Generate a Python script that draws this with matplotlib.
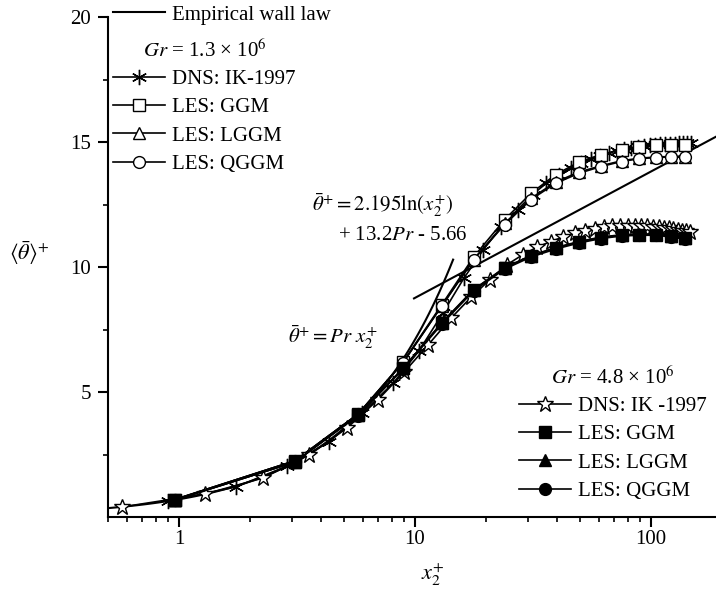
import matplotlib.pyplot as plt
import numpy as np
from matplotlib.ticker import LogLocator, NullFormatter

plt.rcParams['font.family'] = ['Liberation Serif', 'DejaVu Serif']
plt.rcParams['mathtext.fontset'] = 'stix'
plt.rcParams['font.size'] = 15

# Gr = 1.3e6 group
x_dns_a = [0.90, 1.74, 2.87, 4.32, 5.96, 8.07, 10.4, 13.1, 16.1, 19.5, 23.2, 27.2,
           31.5, 36.0, 40.7, 45.6, 50.6, 55.7, 60.9, 66.2, 71.5, 76.9, 82.3, 87.7,
           93.2, 98.6, 104.1, 109.5, 115.0, 120.4, 125.8, 131.2, 136.5, 141.8, 147.0]
th_dns_a = [0.64, 1.20, 2.04, 3.00, 4.15, 5.35, 6.65, 8.15, 9.55, 10.7, 11.6, 12.3,
            12.9, 13.35, 13.7, 13.97, 14.17, 14.33, 14.46, 14.56, 14.64, 14.71, 14.76, 14.8,
            14.84, 14.87, 14.89, 14.91, 14.92, 14.93, 14.94, 14.95, 14.95, 14.96, 14.96]

x_les = [0.96, 3.1, 5.74, 8.9, 13.0, 17.7, 24.0, 31.0, 39.5, 49.5, 61.5, 75.0,
         89.0, 105.0, 122.0, 139.0]
th_ggm_a = [0.70, 2.25, 4.12, 6.2, 8.5, 10.4, 11.9, 12.95, 13.7, 14.2, 14.5, 14.7,
            14.82, 14.88, 14.9, 14.9]
th_lggm_a = [0.70, 2.25, 4.12, 6.18, 8.45, 10.3, 11.75, 12.75, 13.4, 13.8, 14.05, 14.25,
             14.35, 14.4, 14.42, 14.42]
th_qggm_a = [0.70, 2.25, 4.12, 6.18, 8.45, 10.3, 11.7, 12.7, 13.35, 13.75, 14.02, 14.22,
             14.33, 14.38, 14.4, 14.4]

# Gr = 4.8e6 group
x_dns_b = [0.573, 1.29, 2.27, 3.56, 5.15, 6.95, 9.0, 11.4, 14.2, 17.3, 20.8, 24.6,
           28.7, 33.0, 37.6, 42.4, 47.4, 52.5, 57.8, 63.2, 68.6, 74.1, 79.6, 85.2,
           90.8, 96.4, 102.0, 107.6, 113.2, 118.8, 124.4, 130.0, 135.6, 141.2, 146.8]
th_dns_b = [0.40, 0.92, 1.56, 2.48, 3.56, 4.68, 5.8, 6.9, 7.95, 8.8, 9.5, 10.1,
            10.5, 10.8, 11.02, 11.2, 11.35, 11.46, 11.54, 11.6, 11.63, 11.65, 11.66, 11.66,
            11.65, 11.64, 11.62, 11.6, 11.58, 11.55, 11.52, 11.49, 11.46, 11.43, 11.4]
th_ggm_b = [0.68, 2.2, 4.08, 5.95, 7.76, 9.08, 9.96, 10.44, 10.76, 11.0, 11.18, 11.27,
            11.3, 11.3, 11.24, 11.16]
th_lggm_b = [0.68, 2.2, 4.08, 5.95, 7.78, 9.1, 9.98, 10.46, 10.78, 11.02, 11.2, 11.29,
             11.32, 11.32, 11.26, 11.18]
th_qggm_b = [0.68, 2.2, 4.06, 5.92, 7.72, 9.04, 9.92, 10.4, 10.72, 10.96, 11.14, 11.24,
             11.27, 11.27, 11.2, 11.12]

# empirical wall law constants
Pr = 0.71
log_a = 2.195
log_b = 13.2 * Pr - 5.66

fig = plt.figure(figsize=(7.16, 5.89), dpi=100)
ax = fig.add_axes([108/716, 72/589, 1 - 108/716, 500/589])

# wall laws
x_lin = np.geomspace(0.5, 14.5, 100)
ax.plot(x_lin, Pr * x_lin, color='black', lw=1.5)
x_log = np.array([9.9, 200.0])
wall, = ax.plot(x_log, log_a * np.log(x_log) + log_b, color='black', lw=1.5)

kw = dict(color='black', lw=1.2, markeredgecolor='black', markeredgewidth=1.0)
dns_a, = ax.plot(x_dns_a, th_dns_a, marker=(6, 2, 0), ms=11, **kw)
ggm_a, = ax.plot(x_les, th_ggm_a, marker='s', ms=8, markerfacecolor='white', **kw)
lggm_a, = ax.plot(x_les, th_lggm_a, marker='^', ms=9, markerfacecolor='white', **kw)
qggm_a, = ax.plot(x_les, th_qggm_a, marker='o', ms=8.5, markerfacecolor='white', **kw)

dns_b, = ax.plot(x_dns_b, th_dns_b, marker='*', ms=12, markerfacecolor='white', **kw)
ggm_b, = ax.plot(x_les, th_ggm_b, marker='s', ms=8, markerfacecolor='black', **kw)
lggm_b, = ax.plot(x_les, th_lggm_b, marker='^', ms=9, markerfacecolor='black', **kw)
qggm_b, = ax.plot(x_les, th_qggm_b, marker='o', ms=8.5, markerfacecolor='black', **kw)

ax.set_xscale('log')
ax.set_xlim(0.5, 188.5)
ax.set_ylim(0, 20)
ax.set_yticks([5, 10, 15, 20])
ax.set_yticks([2.5, 7.5, 12.5, 17.5], minor=True)
ax.set_xticks([1, 10, 100])
ax.set_xticklabels(['1', '10', '100'])
ax.xaxis.set_minor_locator(LogLocator(base=10, subs=np.arange(2, 10), numticks=20))
ax.xaxis.set_minor_formatter(NullFormatter())
for s in ['top', 'right']:
    ax.spines[s].set_visible(False)
for s in ['left', 'bottom']:
    ax.spines[s].set_linewidth(1.5)
ax.tick_params(which='major', direction='out', length=7, width=1.5, labelsize=15)
ax.tick_params(axis='x', which='major', pad=2)
ax.tick_params(axis='y', which='major', pad=5)
ax.tick_params(which='minor', direction='out', length=3.5, width=1.2)

ax.set_ylabel(r'$\langle\bar{\theta}\rangle^{+}$', rotation=0, fontsize=16)
ax.yaxis.set_label_coords(-0.13, 0.5)
ax.set_xlabel(r'$x_2^{+}$', fontsize=16)
ax.xaxis.set_label_coords(0.535, -0.09)

ax.text(312, 589 - 205, r'$\bar{\theta}^{+} = 2.195\mathrm{ln}(x_2^{+})$',
        transform=None, fontsize=15, va='center')
ax.text(338, 589 - 235, r'+ 13.2$Pr$ - 5.66', transform=None, fontsize=15, va='center')
ax.text(288, 589 - 337, r'$\bar{\theta}^{+} = Pr\ x_2^{+}$', transform=None,
        fontsize=15, va='center')

leg_kw = dict(frameon=False, handlelength=2.5, handletextpad=0.35, labelspacing=0.42,
              borderpad=0, borderaxespad=0, fontsize=15, bbox_transform=fig.transFigure,
              title_fontsize=15)
leg0 = ax.legend([wall], ['Empirical wall law'], loc='center left',
                 bbox_to_anchor=(113/716, 1 - 15/589), **leg_kw)
ax.add_artist(leg0)
leg1 = ax.legend([dns_a, ggm_a, lggm_a, qggm_a],
                 ['DNS: IK-1997', 'LES: GGM', 'LES: LGGM', 'LES: QGGM'],
                 title=r'$Gr$ = 1.3 × 10$^{6}$', loc='upper left',
                 bbox_to_anchor=(113/716, 1 - 40/589), **leg_kw)
leg1._legend_box.sep = 5
ax.add_artist(leg1)
leg2 = ax.legend([dns_b, ggm_b, lggm_b, qggm_b],
                 ['DNS: IK -1997', 'LES: GGM', 'LES: LGGM', 'LES: QGGM'],
                 title=r'$Gr$ = 4.8 × 10$^{6}$', loc='upper left',
                 bbox_to_anchor=(519/716, 1 - 367/589), **leg_kw)
leg2._legend_box.sep = 5

fig.savefig('out.png', dpi=100)
